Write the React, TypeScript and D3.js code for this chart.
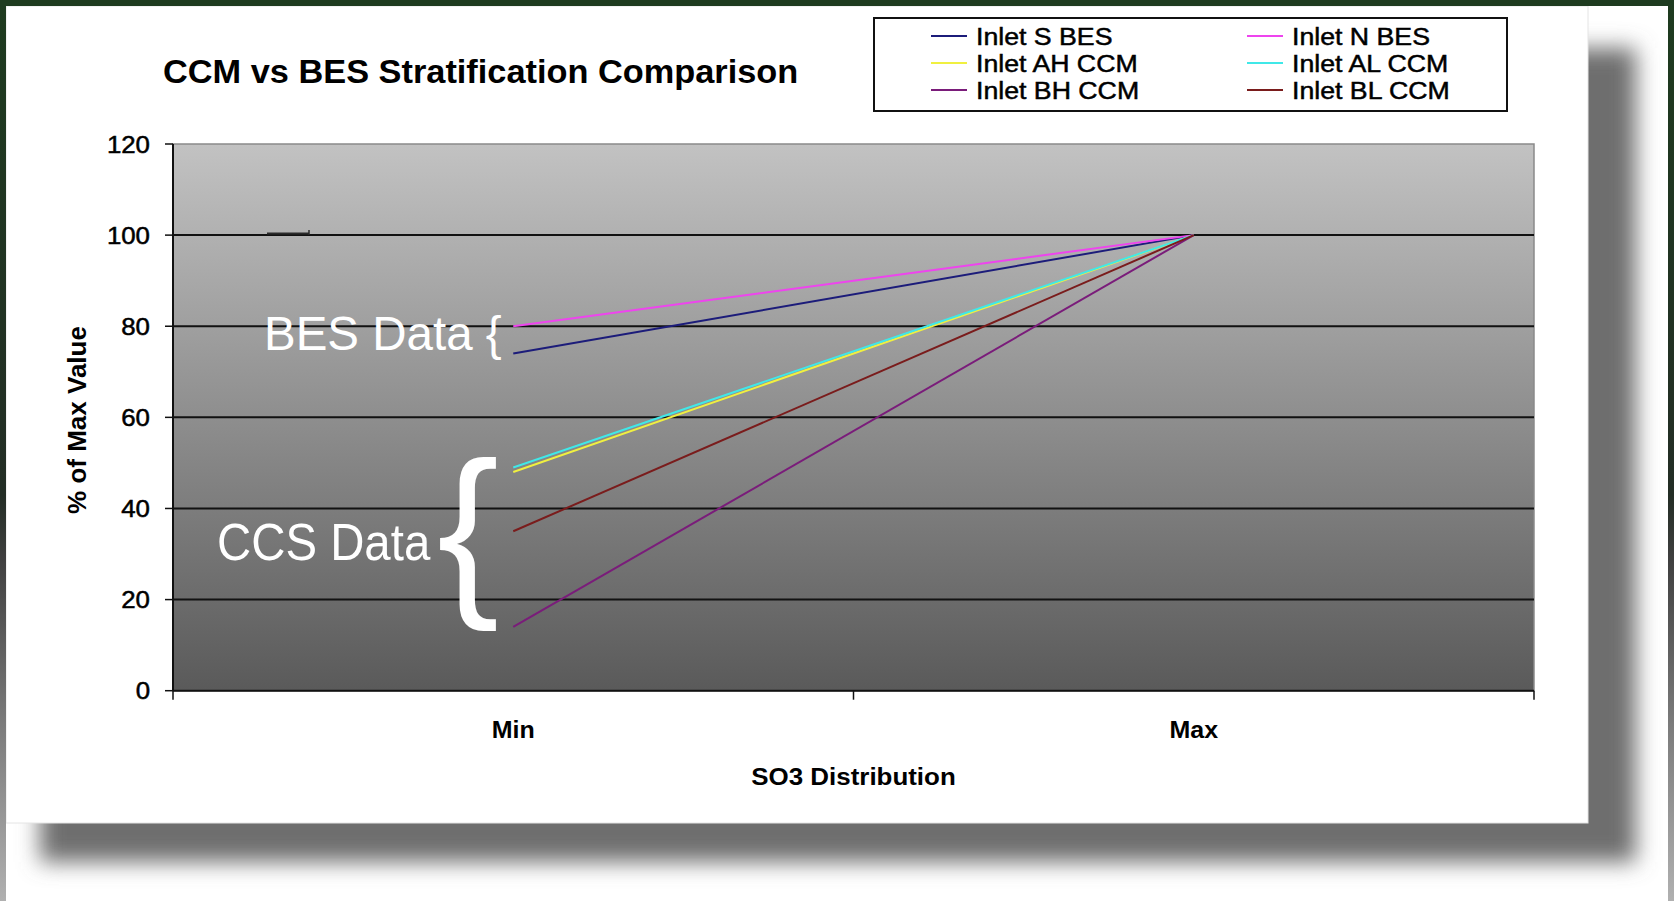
import React from 'react';
import * as d3 from 'd3';

// categories on the x axis
const categories = ['Min', 'Max'];
// y axis ticks (% of max value)
const yTicks = [0, 20, 40, 60, 80, 100, 120];

// series values
const seriesNames = ['Inlet S BES', 'Inlet N BES', 'Inlet AH CCM', 'Inlet AL CCM', 'Inlet BH CCM', 'Inlet BL CCM'];
const inletSBes = [74, 100];
const inletNBes = [80, 100];
const inletAhCcm = [48, 100];
const inletAlCcm = [49, 100];
const inletBhCcm = [14, 100];
const inletBlCcm = [35, 100];

const seriesColors = ['#1c1c7a', '#ee44ee', '#f0f040', '#40e8e8', '#7a1c7a', '#7a1c1c'];

const W = 1674;
const H = 901;
const plot = { left: 173, right: 1534, top: 144, bottom: 690.7 };
const font = '"Liberation Sans", Arial, sans-serif';

// text that is stretched a little sideways, like the original chart image
const SText: React.FC<{
  x: number; y: number; size: number; sx?: number; weight?: string | number;
  anchor?: 'start' | 'middle' | 'end'; fill?: string; heavy?: number; children: React.ReactNode;
}> = ({ x, y, size, sx = 1, weight = 'normal', anchor = 'start', fill = '#000', heavy = 0, children }) => (
  <text
    transform={`translate(${x},${y}) scale(${sx},1)`}
    fontFamily={font}
    fontSize={size}
    fontWeight={weight}
    textAnchor={anchor}
    fill={fill}
    stroke={heavy ? fill : undefined}
    strokeWidth={heavy || undefined}
  >
    {children}
  </text>
);

export default function App() {
  const seriesValues = [inletSBes, inletNBes, inletAhCcm, inletAlCcm, inletBhCcm, inletBlCcm];

  const x = d3.scaleBand<string>().domain(categories).range([plot.left, plot.right]);
  const y = d3.scaleLinear().domain([0, 120]).range([plot.bottom, plot.top]);
  const cx = (c: string) => (x(c) ?? 0) + x.bandwidth() / 2;

  const line = d3.line<number>()
    .x((_, i) => cx(categories[i]))
    .y((d) => y(d));

  const xBoundaries = [plot.left, ...categories.slice(1).map((c) => x(c) ?? 0), plot.right];

  // legend layout: two columns, three rows (Excel order goes across rows)
  const legendCols = [931, 1247];
  const legendRows = [36, 63, 90];

  return (
    <svg
      width={W}
      height={H}
      viewBox={`0 0 ${W} ${H}`}
      style={{ position: 'absolute', left: 0, top: 0, display: 'block' }}
    >
      <defs>
        <linearGradient id="plotBg" x1="0" y1="0" x2="0" y2="1">
          <stop offset="0%" stopColor="#c2c2c2" />
          <stop offset="100%" stopColor="#5a5a5a" />
        </linearGradient>
        <linearGradient id="sideStrip" x1="0" y1="0" x2="0" y2="1">
          <stop offset="0%" stopColor="#1e3b1f" />
          <stop offset="55%" stopColor="#232d25" />
          <stop offset="62%" stopColor="#3f3f3f" />
          <stop offset="80%" stopColor="#7a7a7a" />
          <stop offset="100%" stopColor="#b0b0b0" />
        </linearGradient>
        <filter id="shadowBlur" x="-10%" y="-10%" width="120%" height="120%">
          <feGaussianBlur stdDeviation="11" />
        </filter>
      </defs>

      {/* page background, frame strips and drop shadow */}
      <rect x={0} y={0} width={W} height={H} fill="#ffffff" />
      <rect x={40} y={48} width={1596} height={814} fill="#6e6e6e" filter="url(#shadowBlur)" />
      <rect x={6} y={6} width={1582} height={817} fill="#ffffff" stroke="#e4e4e4" strokeWidth={1} />
      <rect x={0} y={0} width={6} height={H} fill="url(#sideStrip)" />
      <rect x={1668} y={0} width={6} height={H} fill="url(#sideStrip)" />
      <rect x={0} y={0} width={W} height={6} fill="#1e3b1f" />

      {/* title */}
      <SText x={163} y={83} size={32.5} sx={1.057} weight="bold">
        CCM vs BES Stratification Comparison
      </SText>

      {/* legend */}
      <rect x={874} y={18} width={633} height={93} fill="#ffffff" stroke="#111" strokeWidth={2} />
      {seriesNames.map((name, i) => {
        const lx = legendCols[i % 2];
        const ly = legendRows[Math.floor(i / 2)];
        return (
          <g key={name}>
            <line x1={lx} x2={lx + 36} y1={ly} y2={ly} stroke={seriesColors[i]} strokeWidth={2} />
            <SText x={lx + 45} y={ly + 9} size={24.5} sx={1.09} heavy={0.5}>{name}</SText>
          </g>
        );
      })}

      {/* plot area */}
      <rect
        x={plot.left}
        y={plot.top}
        width={plot.right - plot.left}
        height={plot.bottom - plot.top}
        fill="url(#plotBg)"
        stroke="#8a8a8a"
        strokeWidth={1.5}
      />

      {/* gridlines */}
      {yTicks.filter((t) => t > 0 && t < 120).map((t) => (
        <line key={`g-${t}`} x1={plot.left} x2={plot.right} y1={y(t)} y2={y(t)} stroke="#111" strokeWidth={2} />
      ))}

      {/* small leftover mark near the 100 line */}
      <g stroke="#2a2a2a" strokeWidth={2}>
        <line x1={plot.left + 94} x2={plot.left + 136} y1={y(100) - 1.5} y2={y(100) - 1.5} />
        <line x1={plot.left + 136} x2={plot.left + 136} y1={y(100) - 5} y2={y(100)} strokeWidth={1.5} />
      </g>

      {/* axes */}
      <line x1={plot.left} x2={plot.left} y1={plot.top} y2={plot.bottom} stroke="#111" strokeWidth={2} />
      <line x1={plot.left} x2={plot.right} y1={plot.bottom} y2={plot.bottom} stroke="#111" strokeWidth={2} />
      {yTicks.map((t) => (
        <g key={`yt-${t}`}>
          <line x1={plot.left - 8} x2={plot.left} y1={y(t)} y2={y(t)} stroke="#111" strokeWidth={1.5} />
          <SText x={150} y={y(t) + 8.5} size={23.5} sx={1.1} anchor="end" heavy={0.5}>{t}</SText>
        </g>
      ))}
      {xBoundaries.map((bx, i) => (
        <line key={`xt-${i}`} x1={bx} x2={bx} y1={plot.bottom} y2={plot.bottom + 9} stroke="#111" strokeWidth={1.5} />
      ))}
      {categories.map((c) => (
        <SText key={c} x={cx(c)} y={738} size={24} sx={1.04} weight="bold" anchor="middle">{c}</SText>
      ))}

      {/* axis titles */}
      <SText x={(plot.left + plot.right) / 2} y={785} size={24} sx={1.08} weight="bold" anchor="middle">
        SO3 Distribution
      </SText>
      <text
        transform={`translate(86,420) rotate(-90)`}
        fontFamily={font}
        fontSize={26}
        fontWeight="bold"
        textAnchor="middle"
      >
        % of Max Value
      </text>

      {/* series */}
      {seriesValues.map((vals, i) => (
        <path key={seriesNames[i]} d={line(vals) ?? ''} fill="none" stroke={seriesColors[i]} strokeWidth={2} />
      ))}

      {/* annotations */}
      <text x={264} y={350} fontFamily={font} fontSize={47.5} fill="#ffffff">BES Data {'{'}</text>
      <SText x={217} y={560} size={51.5} sx={0.92} fill="#ffffff">CCS Data</SText>
      <text x={437} y={592} fontFamily={font} fontSize={186} fill="#ffffff">{'{'}</text>
    </svg>
  );
}
